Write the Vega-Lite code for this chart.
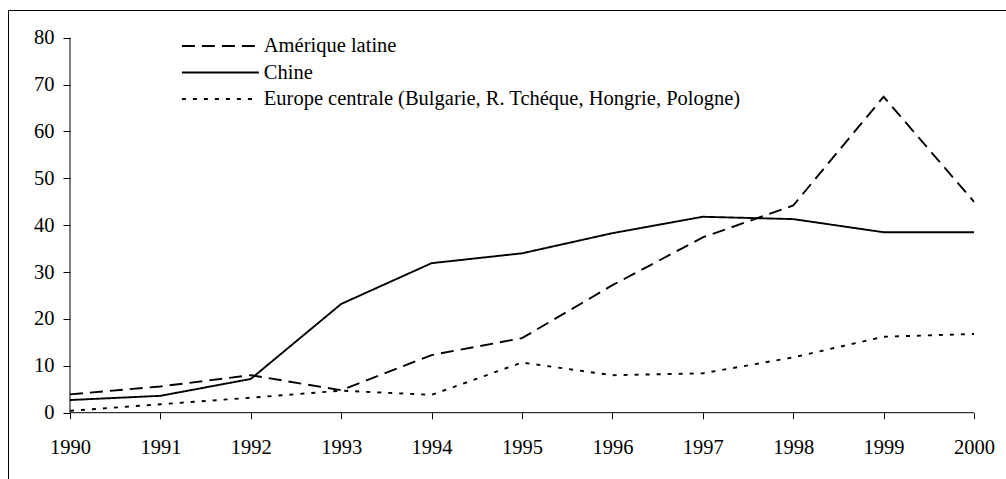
{
  "$schema": "https://vega.github.io/schema/vega-lite/v6.json",
  "width": 1000,
  "height": 472,
  "autosize": "none",
  "padding": {"left": 8, "top": 10, "right": 0, "bottom": 0},
  "background": "white",
  "config": {
    "view": {"stroke": "black", "strokeWidth": 1},
    "font": "Liberation Serif, Times New Roman, serif",
    "axis": {"grid": false, "domain": false, "title": null, "tickColor": "black", "tickWidth": 1, "labelColor": "black", "labelFont": "Liberation Serif, Times New Roman, serif", "labelFontSize": 20.5}
  },
  "layer": [
    {
      "data": {
        "values": [
          {"series": "Amérique latine", "year": 1990, "value": 3.9},
          {"series": "Amérique latine", "year": 1991, "value": 5.6},
          {"series": "Amérique latine", "year": 1992, "value": 8.0},
          {"series": "Amérique latine", "year": 1993, "value": 4.8},
          {"series": "Amérique latine", "year": 1994, "value": 12.3},
          {"series": "Amérique latine", "year": 1995, "value": 15.9},
          {"series": "Amérique latine", "year": 1996, "value": 27.2},
          {"series": "Amérique latine", "year": 1997, "value": 37.4},
          {"series": "Amérique latine", "year": 1998, "value": 44.2},
          {"series": "Amérique latine", "year": 1999, "value": 67.4},
          {"series": "Amérique latine", "year": 2000, "value": 45.0},
          {"series": "Chine", "year": 1990, "value": 2.7},
          {"series": "Chine", "year": 1991, "value": 3.6},
          {"series": "Chine", "year": 1992, "value": 7.2},
          {"series": "Chine", "year": 1993, "value": 23.2},
          {"series": "Chine", "year": 1994, "value": 31.9},
          {"series": "Chine", "year": 1995, "value": 34.0},
          {"series": "Chine", "year": 1996, "value": 38.3},
          {"series": "Chine", "year": 1997, "value": 41.8},
          {"series": "Chine", "year": 1998, "value": 41.3},
          {"series": "Chine", "year": 1999, "value": 38.5},
          {"series": "Chine", "year": 2000, "value": 38.5},
          {"series": "Europe centrale (Bulgarie, R. Tchéque, Hongrie, Pologne)", "year": 1990, "value": 0.4},
          {"series": "Europe centrale (Bulgarie, R. Tchéque, Hongrie, Pologne)", "year": 1991, "value": 1.8},
          {"series": "Europe centrale (Bulgarie, R. Tchéque, Hongrie, Pologne)", "year": 1992, "value": 3.2},
          {"series": "Europe centrale (Bulgarie, R. Tchéque, Hongrie, Pologne)", "year": 1993, "value": 4.7},
          {"series": "Europe centrale (Bulgarie, R. Tchéque, Hongrie, Pologne)", "year": 1994, "value": 3.8},
          {"series": "Europe centrale (Bulgarie, R. Tchéque, Hongrie, Pologne)", "year": 1995, "value": 10.7},
          {"series": "Europe centrale (Bulgarie, R. Tchéque, Hongrie, Pologne)", "year": 1996, "value": 8.0},
          {"series": "Europe centrale (Bulgarie, R. Tchéque, Hongrie, Pologne)", "year": 1997, "value": 8.4},
          {"series": "Europe centrale (Bulgarie, R. Tchéque, Hongrie, Pologne)", "year": 1998, "value": 11.8},
          {"series": "Europe centrale (Bulgarie, R. Tchéque, Hongrie, Pologne)", "year": 1999, "value": 16.2},
          {"series": "Europe centrale (Bulgarie, R. Tchéque, Hongrie, Pologne)", "year": 2000, "value": 16.8}
        ]
      },
      "mark": {"type": "line", "color": "black", "strokeWidth": 1.9, "strokeCap": "butt"},
      "encoding": {
        "x": {
          "field": "year",
          "type": "quantitative",
          "scale": {"domain": [1989.3142, 2000.3761], "nice": false, "zero": false},
          "axis": {"offset": -69.3, "tickSize": 6, "labelPadding": 19, "values": [1990, 1991, 1992, 1993, 1994, 1995, 1996, 1997, 1998, 1999, 2000], "format": "d", "labelFlush": false, "labelOverlap": false}
        },
        "y": {
          "field": "value",
          "type": "quantitative",
          "scale": {"domain": [-14.784, 85.909], "nice": false, "zero": false},
          "axis": {"offset": -62, "tickSize": 7, "labelPadding": 9, "values": [0, 10, 20, 30, 40, 50, 60, 70, 80]}
        },
        "strokeDash": {
          "field": "series",
          "type": "nominal",
          "scale": {
            "domain": ["Amérique latine", "Chine", "Europe centrale (Bulgarie, R. Tchéque, Hongrie, Pologne)"],
            "range": [[13, 7], [1, 0], [4, 7]]
          },
          "legend": {
            "title": null,
            "orient": "none",
            "legendX": 202.15,
            "legendY": 25.75,
            "symbolType": "M-10,0H10",
            "symbolSize": 59.29,
            "symbolStrokeWidth": 2,
            "symbolStrokeColor": "black",
            "labelFont": "Liberation Serif, Times New Roman, serif",
            "labelFontSize": 20.5,
            "labelColor": "black",
            "labelOffset": 33.15,
            "labelLimit": 900,
            "rowPadding": 5.5,
            "padding": 0
          }
        }
      }
    },
    {
      "data": {
        "values": [
          {"year": 1990, "year2": 2000, "value": 0, "value2": 0},
          {"year": 1990, "year2": 1990, "value": 0, "value2": 80}
        ]
      },
      "mark": {"type": "rule", "color": "black", "strokeWidth": 1},
      "encoding": {
        "x": {"field": "year", "type": "quantitative"},
        "x2": {"field": "year2"},
        "y": {"field": "value", "type": "quantitative"},
        "y2": {"field": "value2"}
      }
    }
  ]
}
